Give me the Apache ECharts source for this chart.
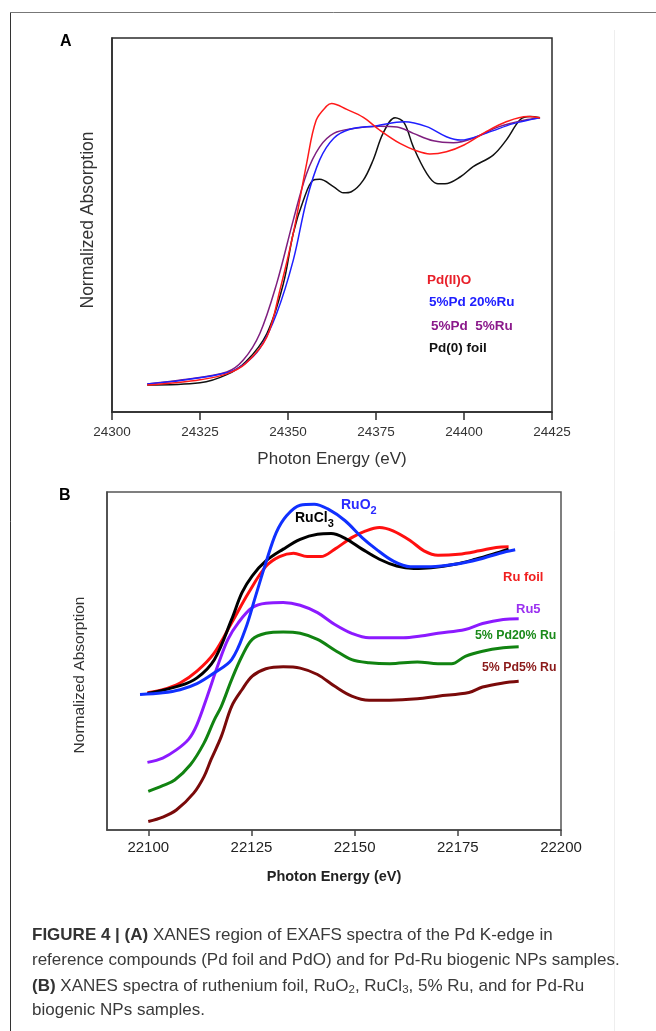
<!DOCTYPE html>
<html>
<head>
<meta charset="utf-8">
<script src="https://cdn.jsdelivr.net/npm/echarts@6/dist/echarts.min.js"></script>
<style>
  html, body { margin: 0; padding: 0; background: #fff; }
  #chart { width: 656px; height: 1031px; }
</style>
</head>
<body>
<div id="chart"></div>
<script>
// ---- panel A: Pd K-edge (energies in eV, absorption normalised 0-100 of the plot box)
const ticksA = [24300, 24325, 24350, 24375, 24400, 24425];

const pdoE = [24310, 24318, 24325, 24332.6, 24338, 24344, 24347.7, 24351.5, 24355.3, 24358, 24361, 24362.4, 24366.7, 24371.4, 24376, 24381.8, 24386.6, 24390.3, 24395, 24400, 24406.4, 24412, 24418, 24421.6];
const pdoV = [7.2, 7.8, 8.6, 10.2, 13, 20.1, 32.6, 47.8, 66.5, 78, 81.8, 82.5, 80.9, 78.8, 75.4, 71.8, 69.8, 69, 69.6, 71.4, 75, 77.6, 79, 78.7];

const pd20RuE = [24310, 24320, 24332.6, 24337.3, 24342, 24346.8, 24351.5, 24355.3, 24359, 24363, 24367.6, 24375, 24383, 24389.4, 24395, 24399, 24406.4, 24414, 24421.6];
const pd20RuV = [7.5, 8.5, 10.5, 12.6, 17, 26.4, 40.6, 56.7, 67.4, 73.2, 75.6, 76.5, 77.6, 76.3, 73.6, 72.7, 74.6, 77.1, 78.7];

const pd5RuE = [24310, 24320, 24332.6, 24337.3, 24342, 24346.8, 24351.5, 24355.3, 24359, 24363, 24368.6, 24376, 24381, 24385.6, 24391.3, 24397, 24402.6, 24410, 24418, 24421.6];
const pd5RuV = [7.5, 8.6, 10.7, 13.9, 21, 34.4, 51.3, 63.8, 70.9, 74.5, 75.8, 76.4, 76.2, 74.5, 72.5, 72, 73.2, 76.3, 78.2, 78.7];

const pdFoilE = [24310, 24325, 24332.6, 24338, 24344, 24348.7, 24351.5, 24354.4, 24357.2, 24359, 24363, 24365.7, 24368, 24371.4, 24374.2, 24377, 24380.4, 24383, 24385.6, 24389.4, 24392.2, 24394.6, 24399, 24402.6, 24408.3, 24412, 24416, 24418.75, 24421.6];
const pdFoilV = [7.2, 7.8, 10, 13.4, 21, 34.4, 47.8, 56.7, 62, 62.2, 60.2, 58.6, 58.9, 62, 67.4, 74.5, 78.7, 77.3, 70.9, 63.8, 61.1, 61, 62.9, 65.6, 68.7, 72.7, 78.2, 79, 78.7];

// ---- panel B: Ru K-edge
const ticksB = [22100, 22125, 22150, 22175, 22200];

const ruFoilE = [22099.8, 22103.5, 22107.7, 22111.8, 22116, 22120.2, 22124.3, 22128.5, 22131.8, 22135.2, 22138.5, 22141.8, 22145.2, 22149.3, 22152.7, 22156, 22159.3, 22163.5, 22166.8, 22170.2, 22175.2, 22180.2, 22184.3, 22187.3];
const ruFoilV = [40.6, 41.5, 43.5, 47, 52.4, 61.3, 70.2, 78, 80.9, 81.9, 80.9, 80.9, 83.1, 86.5, 88.5, 89.5, 88.5, 85.6, 82.6, 81.3, 81.6, 82.6, 83.6, 83.8];

const ruCl3E = [22099.8, 22107.7, 22111.8, 22116, 22120.2, 22122.7, 22125.2, 22128.5, 22132.7, 22136.8, 22141, 22144.3, 22147.7, 22151.8, 22156, 22160.2, 22164.3, 22168.5, 22174.3, 22179.3, 22183.5, 22187.3];
const ruCl3V = [40.4, 42.7, 45, 50.4, 62.3, 70.2, 75.2, 79.6, 83.1, 86, 87.5, 87.7, 86.3, 83.1, 80.1, 78.1, 77.4, 77.6, 78.6, 80.1, 81.6, 83.1];

const ruO2E = [22098, 22103.5, 22107.7, 22111.8, 22116, 22120.2, 22123.5, 22126, 22128.5, 22131, 22133.5, 22136.8, 22140.2, 22143.5, 22147.7, 22151.8, 22155.2, 22159.3, 22163.5, 22168.5, 22174.3, 22180.2, 22185.2, 22188.9];
const ruO2V = [40.1, 40.6, 41.5, 43.3, 46.5, 50.4, 59.3, 69.2, 79.1, 88, 93, 96.1, 96.4, 95, 91.5, 86.5, 83.1, 79.6, 77.9, 77.9, 78.6, 80.1, 81.9, 82.9];

const ru5E = [22099.8, 22103.5, 22106.8, 22109.8, 22111.8, 22114.3, 22116.8, 22119.3, 22121.8, 22125.2, 22128.5, 22132.7, 22136.8, 22141, 22145.2, 22149.3, 22153.5, 22161.8, 22166, 22170.2, 22176.8, 22181, 22186, 22189.75];
const ru5V = [20, 21.3, 23.7, 26.9, 31.2, 39.6, 48.5, 56.4, 61.3, 65.8, 67.1, 67.3, 66.5, 64.3, 60.8, 58.2, 56.9, 56.9, 57.4, 58.2, 59.3, 61.1, 62.3, 62.5];

const pd5ru20E = [22100, 22103.5, 22106.4, 22110.2, 22113.5, 22116, 22117.7, 22120.2, 22122.7, 22125.2, 22128.5, 22132.7, 22136.8, 22141, 22145.2, 22149.3, 22153.5, 22158.5, 22165.2, 22170.2, 22173.5, 22176.8, 22181, 22186, 22189.75];
const pd5ru20V = [11.4, 13.1, 14.8, 19.3, 25.7, 32.6, 36.6, 44.5, 51.4, 56.4, 58.2, 58.6, 58.2, 56.4, 53.2, 50.4, 49.5, 49.2, 49.7, 49.2, 49.2, 51.4, 52.9, 53.9, 54.2];

const pd5ru5E = [22100, 22103.5, 22106.8, 22111, 22113.5, 22115.2, 22117.7, 22120.2, 22122.7, 22125.2, 22128.5, 22132.7, 22136.8, 22141, 22145.2, 22149.3, 22153.5, 22158.5, 22165.2, 22170.2, 22177.7, 22181, 22186, 22189.75];
const pd5ru5V = [2.5, 3.8, 5.9, 10.9, 15.8, 20.8, 27.7, 36.6, 41.5, 45.5, 47.7, 48.3, 47.9, 46, 42.5, 39.6, 38.4, 38.4, 38.8, 39.6, 40.7, 42.3, 43.5, 44];

const FONT = 'Arial, "Liberation Sans", sans-serif';

const pairs = (xs, ys) => xs.map((x, i) => [x, ys[i]]);

const lineSeries = (name, xs, ys, color, width, idx) => ({
  name,
  type: 'line',
  xAxisIndex: idx,
  yAxisIndex: idx,
  data: pairs(xs, ys),
  showSymbol: false,
  smooth: 0.35,
  lineStyle: { color, width },
  z: 3
});

const txt = (x, y, text, fill, size, weight, extra) => ({
  type: 'text',
  x, y,
  style: Object.assign({
    text,
    fill,
    font: `${weight || 'normal'} ${size}px ${FONT}`,
    textAlign: 'left',
    textVerticalAlign: 'middle'
  }, extra || {})
});

// rotated axis title
const vtxt = (x, y, text, size, weight) => ({
  type: 'text',
  x, y,
  rotation: Math.PI / 2,
  style: {
    text,
    fill: '#333',
    font: `${weight || 'normal'} ${size}px ${FONT}`,
    textAlign: 'center',
    textVerticalAlign: 'middle'
  }
});

const chemRich = (color, size, subSize) => ({
  m: { fontSize: size, fontWeight: 'bold', fontFamily: FONT, fill: color, lineHeight: 18, verticalAlign: 'top' },
  s: { fontSize: subSize, fontWeight: 'bold', fontFamily: FONT, fill: color, lineHeight: 12, verticalAlign: 'bottom' }
});

const chart = echarts.init(document.getElementById('chart'));

const option = {
  backgroundColor: '#fff',
  animation: false,
  grid: [
    { left: 112, top: 38, width: 440, height: 374, show: true, borderColor: '#2b2b2b', borderWidth: 1.5 },
    { left: 107, top: 492, width: 454, height: 338, show: true, borderColor: '#555', borderWidth: 1.5 }
  ],
  xAxis: [
    {
      gridIndex: 0, type: 'value', min: 24300, max: 24425, interval: 25,
      axisLine: { lineStyle: { color: '#2b2b2b', width: 1.5 } },
      axisTick: { length: 8, lineStyle: { color: '#2b2b2b', width: 1.5 } },
      axisLabel: { fontSize: 13.5, color: '#333', margin: 13, fontFamily: FONT, formatter: v => String(v) },
      splitLine: { show: false },
      name: 'Photon Energy (eV)', nameLocation: 'middle', nameGap: 39,
      nameTextStyle: { fontSize: 17, color: '#333', fontFamily: FONT }
    },
    {
      gridIndex: 1, type: 'value', min: 22090, max: 22200,
      axisLine: { lineStyle: { color: '#444', width: 1.5 } },
      axisTick: { length: 6, customValues: ticksB, lineStyle: { color: '#444', width: 1.5 } },
      axisLabel: { fontSize: 15, color: '#222', margin: 10, fontFamily: FONT, customValues: ticksB, formatter: v => String(v) },
      splitLine: { show: false },
      name: 'Photon Energy (eV)', nameLocation: 'middle', nameGap: 39,
      nameTextStyle: { fontSize: 14.5, fontWeight: 'bold', color: '#222', fontFamily: FONT }
    }
  ],
  yAxis: [
    {
      gridIndex: 0, type: 'value', min: 0, max: 100,
      axisLine: { show: true, lineStyle: { color: '#2b2b2b', width: 1.5 } },
      axisTick: { show: false }, axisLabel: { show: false }, splitLine: { show: false }
    },
    {
      gridIndex: 1, type: 'value', min: 0, max: 100,
      axisLine: { show: true, lineStyle: { color: '#444', width: 1.5 } },
      axisTick: { show: false }, axisLabel: { show: false }, splitLine: { show: false }
    }
  ],
  series: [
    lineSeries('Pd(0) foil', pdFoilE, pdFoilV, '#111', 1.5, 0),
    lineSeries('5%Pd 5%Ru', pd5RuE, pd5RuV, '#7f1f7f', 1.5, 0),
    lineSeries('5%Pd 20%Ru', pd20RuE, pd20RuV, '#1f1fff', 1.5, 0),
    lineSeries('Pd(II)O', pdoE, pdoV, '#ff1a1a', 1.5, 0),

    lineSeries('5% Pd5% Ru', pd5ru5E, pd5ru5V, '#7a0a0a', 3, 1),
    lineSeries('5% Pd20% Ru', pd5ru20E, pd5ru20V, '#118311', 3, 1),
    lineSeries('Ru5', ru5E, ru5V, '#8c1aff', 3, 1),
    lineSeries('Ru foil', ruFoilE, ruFoilV, '#ff1010', 3, 1),
    lineSeries('RuCl3', ruCl3E, ruCl3V, '#000', 3, 1),
    lineSeries('RuO2', ruO2E, ruO2V, '#1030ff', 3, 1)
  ],
  graphic: [
    // figure frame
    { type: 'line', shape: { x1: 10.5, y1: 12.5, x2: 656, y2: 12.5 }, style: { stroke: '#777', lineWidth: 1 } },
    { type: 'line', shape: { x1: 10.5, y1: 12.5, x2: 10.5, y2: 1031 }, style: { stroke: '#333', lineWidth: 1 } },
    { type: 'line', shape: { x1: 614.5, y1: 30, x2: 614.5, y2: 1031 }, style: { stroke: '#eee', lineWidth: 1 } },

    txt(60, 42, 'A', '#000', 16, 'bold'),
    txt(59, 496, 'B', '#000', 16, 'bold'),

    vtxt(88, 220, 'Normalized Absorption', 17.5),
    vtxt(80, 675, 'Normalized Absorption', 15.5),

    // panel A labels
    txt(427, 280, 'Pd(II)O', '#e8202a', 13.5, 'bold'),
    txt(429, 302, '5%Pd 20%Ru', '#2020ff', 13.5, 'bold'),
    txt(431, 326, '5%Pd  5%Ru', '#8b1a8b', 13.5, 'bold'),
    txt(429, 348, 'Pd(0) foil', '#111', 13.5, 'bold'),

    // panel B labels
    txt(341, 507, '{m|RuO}{s|2}', '#2a2aff', 14, 'bold', { rich: chemRich('#2a2aff', 14, 11) }),
    txt(295, 520, '{m|RuCl}{s|3}', '#000', 14, 'bold', { rich: chemRich('#000', 14, 11) }),
    txt(503, 577, 'Ru foil', '#f02020', 13, 'bold'),
    txt(516, 609, 'Ru5', '#9a30f0', 13, 'bold'),
    txt(475, 636, '5% Pd20% Ru', '#1a8a1a', 12.3, 'bold'),
    txt(482, 668, '5% Pd5% Ru', '#8b1a1a', 12.3, 'bold'),

    // caption
    txt(32, 935, '{b|FIGURE 4 | (A)} XANES region of EXAFS spectra of the Pd K-edge in', '#3a3a3a', 17, 'normal', {
      rich: { b: { fontSize: 17, fontWeight: 'bold', fontFamily: FONT, fill: '#333' } }
    }),
    txt(32, 960, 'reference compounds (Pd foil and PdO) and for Pd-Ru biogenic NPs samples.', '#3a3a3a', 17),
    txt(32, 986, '{b|(B)} XANES spectra of ruthenium foil, RuO{s|2}, RuCl{s|3}, 5% Ru, and for Pd-Ru', '#3a3a3a', 17, 'normal', {
      rich: {
        b: { fontSize: 17, fontWeight: 'bold', fontFamily: FONT, fill: '#333', lineHeight: 20 },
        s: { fontSize: 11.5, fontFamily: FONT, fill: '#3a3a3a', lineHeight: 12, verticalAlign: 'bottom' }
      }
    }),
    txt(32, 1010, 'biogenic NPs samples.', '#3a3a3a', 17)
  ]
};

chart.setOption(option);
</script>
</body>
</html>
